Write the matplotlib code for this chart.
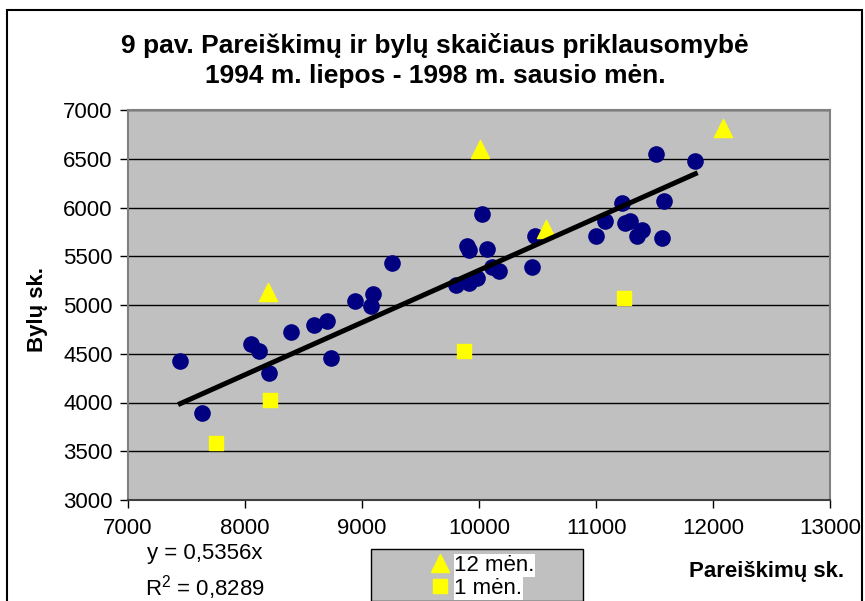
import matplotlib.pyplot as plt
from matplotlib.lines import Line2D
from matplotlib.patches import Rectangle

plt.rcParams['font.family'] = ['Liberation Sans', 'DejaVu Sans']

# monthly points (pareiškimai, bylos)
pareiskimai = [7447, 7635, 8051, 8122, 8205, 8390, 8590, 8698, 8738, 8943,
               9074, 9097, 9254, 9801, 9900, 9917, 9915, 9980, 10028, 10066,
               10114, 10171, 10450, 10476, 10997, 11080, 11222, 11248, 11291,
               11350, 11390, 11513, 11561, 11581, 11849]
bylos = [4430, 3896, 4605, 4533, 4307, 4728, 4796, 4841, 4461, 5036,
         4991, 5108, 5432, 5206, 5603, 5566, 5221, 5272, 5929, 5570,
         5385, 5347, 5385, 5710, 5706, 5860, 6048, 5840, 5857,
         5703, 5771, 6545, 5686, 6063, 6476]

# 12th month points
men12_x = [8194, 10006, 10573, 12088]
men12_y = [5135, 6600, 5778, 6812]

# 1st month points
men1_x = [7752, 8211, 9872, 11239]
men1_y = [3584, 4030, 4526, 5067]

slope = 0.5356
r2 = 0.8289

fig = plt.figure(figsize=(8.65, 6.01), dpi=100)
ax = fig.add_axes([128 / 865, 1 - 500 / 601, 702 / 865, 390 / 601])
ax.set_facecolor('#C0C0C0')

ax.set_xlim(7000, 13000)
ax.set_ylim(3000, 7000)
ax.set_xticks(range(7000, 13001, 1000))
ax.set_yticks(range(3000, 7001, 500))
ax.yaxis.grid(True, color='black', linewidth=1)
ax.set_axisbelow(True)
ax.tick_params(direction='out', length=6, width=1, labelsize=16, color='black')
ax.tick_params(axis='x', pad=7)
ax.tick_params(axis='y', pad=5)
for s in ['top', 'right', 'left']:
    ax.spines[s].set_color('#808080')
    ax.spines[s].set_linewidth(1.5)
ax.spines['bottom'].set_color('#404040')
ax.spines['bottom'].set_linewidth(1.5)

ax.scatter(pareiskimai, bylos, s=120, color='#000080', zorder=3)
ax.scatter(men12_x, men12_y, marker='^', s=170, color='#FFFF00', zorder=3)
ax.scatter(men1_x, men1_y, marker='s', s=115, color='#FFFF00', zorder=3)

xmin, xmax = min(pareiskimai), max(pareiskimai)
ax.plot([xmin, xmax], [slope * xmin, slope * xmax], color='black', linewidth=3.6, zorder=4)

fig.text(0.503, 1 - 45 / 601, '9 pav. Pareiškimų ir bylų skaičiaus priklausomybė',
         ha='center', va='center', fontsize=19, fontweight='bold')
fig.text(0.503, 1 - 76 / 601, '1994 m. liepos - 1998 m. sausio mėn.',
         ha='center', va='center', fontsize=19, fontweight='bold')

fig.text(38 / 865, 1 - 310 / 601, 'Bylų sk.', rotation=90, ha='center', va='center',
         fontsize=16, fontweight='bold')
fig.text(767 / 865, 1 - 572 / 601, 'Pareiškimų sk.', ha='center', va='center',
         fontsize=16, fontweight='bold')

eq = 'y = ' + f'{slope:.4f}'.replace('.', ',') + 'x'
fig.text(205 / 865, 1 - 553 / 601, eq, ha='center', va='center', fontsize=16)
fig.text(205 / 865, 1 - 588 / 601, '$\\mathregular{R^2}$ = ' + f'{r2:.4f}'.replace('.', ','),
         ha='center', va='center', fontsize=16)

# legend box
fig.patches.append(Rectangle((371 / 865, 0), 212 / 865, 52 / 601, transform=fig.transFigure,
                             facecolor='#C0C0C0', edgecolor='black', linewidth=1))
handles = [Line2D([], [], marker='^', linestyle='none', markersize=13, color='#FFFF00'),
           Line2D([], [], marker='s', linestyle='none', markersize=10, color='#FFFF00')]
leg = fig.legend(handles, ['12 mėn.', '1 mėn.'], loc='center left',
                 bbox_to_anchor=(420 / 865, 1 - 577 / 601), frameon=False, fontsize=16,
                 handlelength=0.8, handletextpad=0.25, labelspacing=0.08, borderpad=0)
for t in leg.get_texts():
    t.set_bbox(dict(facecolor='white', edgecolor='none', pad=0.5))

fig.patches.append(Rectangle((6.5 / 865, -0.01), 855 / 865, 1 - 9.5 / 601 + 0.01,
                             transform=fig.transFigure, facecolor='none',
                             edgecolor='black', linewidth=1.5))

fig.savefig('out.png', dpi=100)
